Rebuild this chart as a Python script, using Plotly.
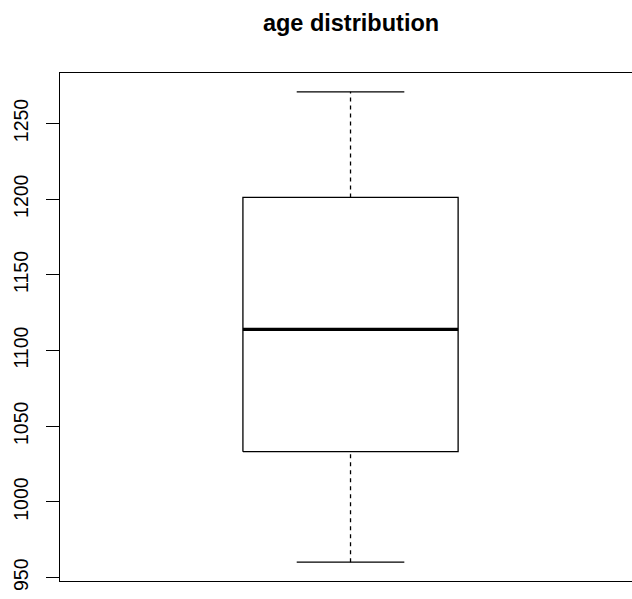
import plotly.graph_objects as go

# ---- data ----
title_text = "age distribution"
whisker_low = 960.2
q1 = 1033.2
median = 1114.0
q3 = 1201.1
whisker_high = 1270.9
y_ticks = [950, 1000, 1050, 1100, 1150, 1200, 1250]
y_range = [947.8, 1283.3]

# ---- style constants ----
center = 1.0
box_half = 0.2
cap_half = 0.1
x_range = [0.46, 1.5232]
FONT = "Liberation Sans, Arial, Helvetica, sans-serif"
line_w = 1.3

fig = go.Figure()

# box rectangle
fig.add_trace(go.Scatter(
    x=[center - box_half, center + box_half, center + box_half, center - box_half, center - box_half],
    y=[q1, q1, q3, q3, q1],
    mode="lines", line=dict(color="black", width=line_w), hoverinfo="skip", showlegend=False))
# median
fig.add_trace(go.Scatter(
    x=[center - box_half, center + box_half], y=[median, median],
    mode="lines", line=dict(color="black", width=3.2), showlegend=False))
# whiskers (dashed)
fig.add_trace(go.Scatter(
    x=[center, center], y=[q3, whisker_high],
    mode="lines", line=dict(color="black", width=line_w, dash="4px,4px"), showlegend=False))
fig.add_trace(go.Scatter(
    x=[center, center], y=[whisker_low, q1],
    mode="lines", line=dict(color="black", width=line_w, dash="4px,4px"), showlegend=False))
# caps
for v in (whisker_high, whisker_low):
    fig.add_trace(go.Scatter(
        x=[center - cap_half, center + cap_half], y=[v, v],
        mode="lines", line=dict(color="black", width=line_w), showlegend=False))

fig.update_layout(
    width=632, height=599,
    margin=dict(l=60, r=0, t=73, b=18),
    paper_bgcolor="white", plot_bgcolor="white",
    font=dict(family=FONT, color="black"),
    title=dict(text="<b>" + title_text + "</b>", xref="container", yref="container",
               x=351 / 632, y=1 - 23 / 599, xanchor="center", yanchor="middle",
               font=dict(size=23.5, family=FONT, color="black")),
    showlegend=False,
)
fig.update_xaxes(range=x_range, showticklabels=False, ticks="", showgrid=False,
                 zeroline=False, showline=True, mirror=True, linecolor="black", linewidth=line_w)
fig.update_yaxes(range=y_range, tickvals=y_ticks, ticktext=[str(t) for t in y_ticks],
                 tickangle=-90, ticks="outside", ticklen=13, tickwidth=line_w, tickcolor="black",
                 tickfont=dict(size=19.5, family=FONT, color="black"),
                 ticklabelstandoff=10,
                 showgrid=False, zeroline=False, showline=True, mirror=False,
                 linecolor="black", linewidth=line_w)

fig.write_html("out.html")
